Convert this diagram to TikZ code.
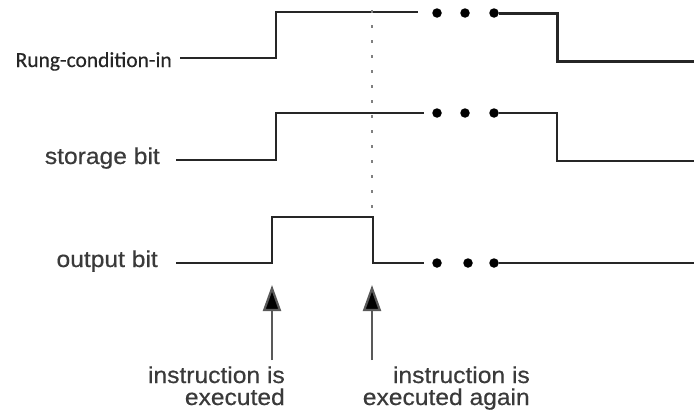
\documentclass[tikz,border=0pt]{standalone}
\usepackage{fontspec}
\setmainfont{Liberation Sans}
\newfontfamily\calib{Carlito}
\usetikzlibrary{arrows.meta}
\definecolor{sig}{HTML}{262626}
\definecolor{lbl}{HTML}{3A3A3A}
\begin{document}
\begin{tikzpicture}[x=1pt,y=-1pt,
  wave/.style={draw=sig,line width=2.5pt,line join=miter},
  lab/.style={inner sep=0pt,text=lbl,font=\fontsize{23}{22}\selectfont\addfontfeature{FakeBold=0.5},xscale=1.07},
  dotm/.style={fill=black,circle,inner sep=0pt,minimum size=9.5pt},
  ptr/.style={draw=black!65,line width=2.2pt,-{Triangle[length=26pt,width=18pt,fill=black]}}]
\useasboundingbox (0,0) rectangle (694,415);
% labels
\node[inner sep=0pt,anchor=base east,text=black!85,font=\calib\fontsize{21.5}{21.5}\selectfont\addfontfeature{FakeBold=0.4}] (rl) at (172,67) {Rung-condition-in};
\node[lab,anchor=base east] (sl) at (160,164) {storage bit};
\node[lab,anchor=base east] (ol) at (158,267) {output bit};
% rung
\coordinate (r0) at (180,58);
\node[dotm] (rd1) at (437,13) {};
\node[dotm] (rd2) at (465,13) {};
\node[dotm] (rd3) at (494,13) {};
\draw[wave] (r0) -- (276,58) -- (276,12) -- (418,12);
\draw[wave,line width=3pt] (rd3) -- (557,13) -- (557,61) -- (694,61);
% storage
\coordinate (s0) at (176,160);
\node[dotm] (sd1) at (437,113) {};
\node[dotm] (sd2) at (465,113) {};
\node[dotm] (sd3) at (494,113) {};
\draw[wave] (s0) -- (276,160) -- (276,113) -- (424,113);
\draw[wave] (sd3) -- (557,113) -- (557,161) -- (694,161);
% output
\coordinate (o0) at (176,263);
\node[dotm] (od1) at (437,263) {};
\node[dotm] (od2) at (468,263) {};
\node[dotm] (od3) at (494,263) {};
\draw[wave] (o0) -- (272,263) -- (272,217) -- (373,217) -- (373,263) -- (424,263);
\draw[wave] (od3) -- (694,263);
% dotted marker
\coordinate (m0) at (372,10);
\coordinate (m1) at (372,214);
\draw[draw=black!50,line width=2.6pt,dash pattern=on 2.6pt off 12.4pt] (m0) -- (m1);
% arrows
\coordinate (a1s) at (272,360);
\coordinate (a1e) at (272,285);
\coordinate (a2s) at (372,360);
\coordinate (a2e) at (372,285);
\draw[ptr] (a1s) -- (a1e);
\draw[ptr] (a2s) -- (a2e);
\node[lab,anchor=base east,align=right] (t1) at (285,405) {instruction is\\executed};
\node[lab,anchor=base east,align=right] (t2) at (530,405) {instruction is\\executed again};
\end{tikzpicture}
\end{document}
